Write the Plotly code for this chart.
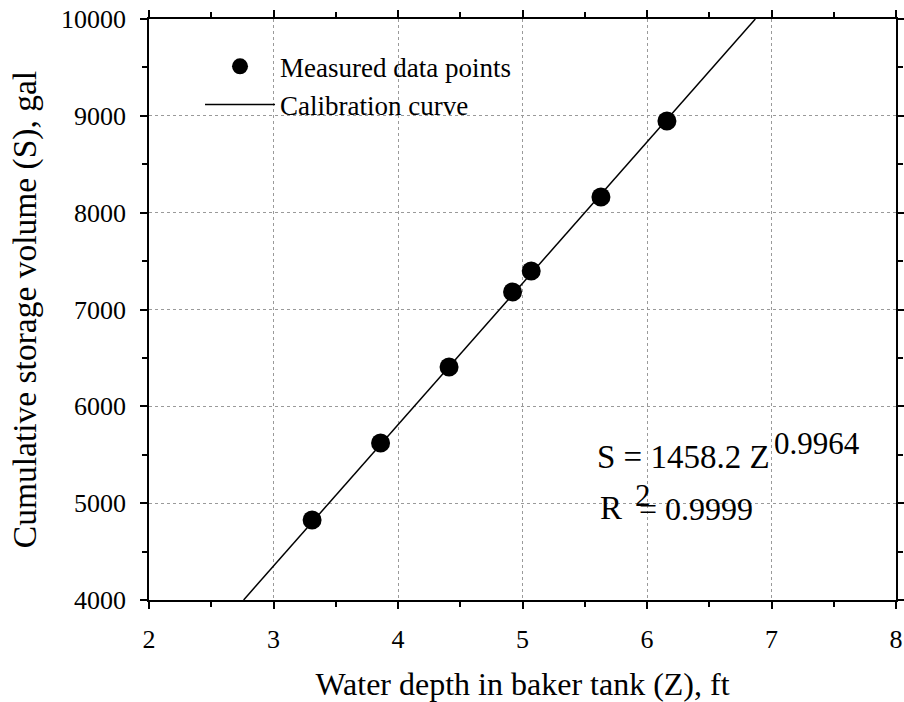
import plotly.graph_objects as go

depth_z = [3.31, 3.86, 4.41, 4.92, 5.07, 5.63, 6.16]
storage_s = [4826, 5621, 6406, 7181, 7398, 8162, 8947]

# Calibration curve (end points)
curve_z = [2.76, 6.87]
curve_s = [4000, 10000]

x_ticks = [2, 3, 4, 5, 6, 7, 8]
y_ticks = [4000, 5000, 6000, 7000, 8000, 9000, 10000]

FONT = "Liberation Serif"

fig = go.Figure()
fig.add_trace(go.Scatter(
    x=depth_z, y=storage_s, mode="markers", name="Measured data points",
    marker=dict(size=19, color="black", line=dict(width=0)),
))
fig.add_trace(go.Scatter(
    x=curve_z, y=curve_s, mode="lines", name="Calibration curve",
    line=dict(color="black", width=1.5),
))

axis_common = dict(
    showline=True, linecolor="black", linewidth=1.5, mirror="ticks",
    ticks="outside", ticklen=7, tickwidth=1.5, tickcolor="black",
    showgrid=True, gridcolor="#9a9a9a", griddash="dot", gridwidth=1,
    zeroline=False, tickformat="d", automargin=False,
    tickfont=dict(family=FONT, size=26, color="black"),
)

fig.update_xaxes(
    range=[2, 8], tickvals=x_ticks,
    minor=dict(dtick=0.5, ticks="outside", ticklen=5, tickwidth=1.5, tickcolor="black", showgrid=False),
    title_text="Water depth in baker tank (Z), ft", title_standoff=23,
    title_font=dict(family=FONT, size=32, color="black"),
    ticklabelstandoff=8,
    **axis_common,
)
fig.update_yaxes(
    range=[4000, 10000], tickvals=y_ticks,
    minor=dict(dtick=500, ticks="outside", ticklen=5, tickwidth=1.5, tickcolor="black", showgrid=False),
    title_text="Cumulative storage volume (S), gal", title_standoff=14,
    title_font=dict(family=FONT, size=33.5, color="black"),
    ticklabelstandoff=9,
    **axis_common,
)

ann_font = dict(family=FONT, size=33, color="black")
sup_font = dict(family=FONT, size=31, color="black")
fig.add_annotation(x=5.582, y=5476, xref="x", yref="y", text="S = 1458.2 Z",
                   showarrow=False, xanchor="left", yanchor="middle", font=ann_font)
fig.add_annotation(x=7.004, y=5621, xref="x", yref="y", text="0.9964",
                   showarrow=False, xanchor="left", yanchor="middle", font=sup_font)
fig.add_annotation(x=5.606, y=4950, xref="x", yref="y", text="R",
                   showarrow=False, xanchor="left", yanchor="middle", font=ann_font)
fig.add_annotation(x=5.888, y=5083, xref="x", yref="y", text="2",
                   showarrow=False, xanchor="left", yanchor="middle", font=sup_font)
fig.add_annotation(x=5.920, y=4935, xref="x", yref="y", text="= 0.9999",
                   showarrow=False, xanchor="left", yanchor="middle",
                   font=dict(family=FONT, size=32, color="black"))

fig.update_layout(
    width=904, height=702,
    margin=dict(l=149, r=8, t=19, b=102),
    paper_bgcolor="white", plot_bgcolor="white",
    font=dict(family=FONT, color="black"),
    showlegend=True,
    legend=dict(
        x=0.0683, y=0.96, xanchor="left", yanchor="top",
        bgcolor="rgba(0,0,0,0)", borderwidth=0,
        font=dict(family=FONT, size=27, color="black"),
        itemwidth=70, tracegroupgap=0,
    ),
)

fig.write_html("out.html")
